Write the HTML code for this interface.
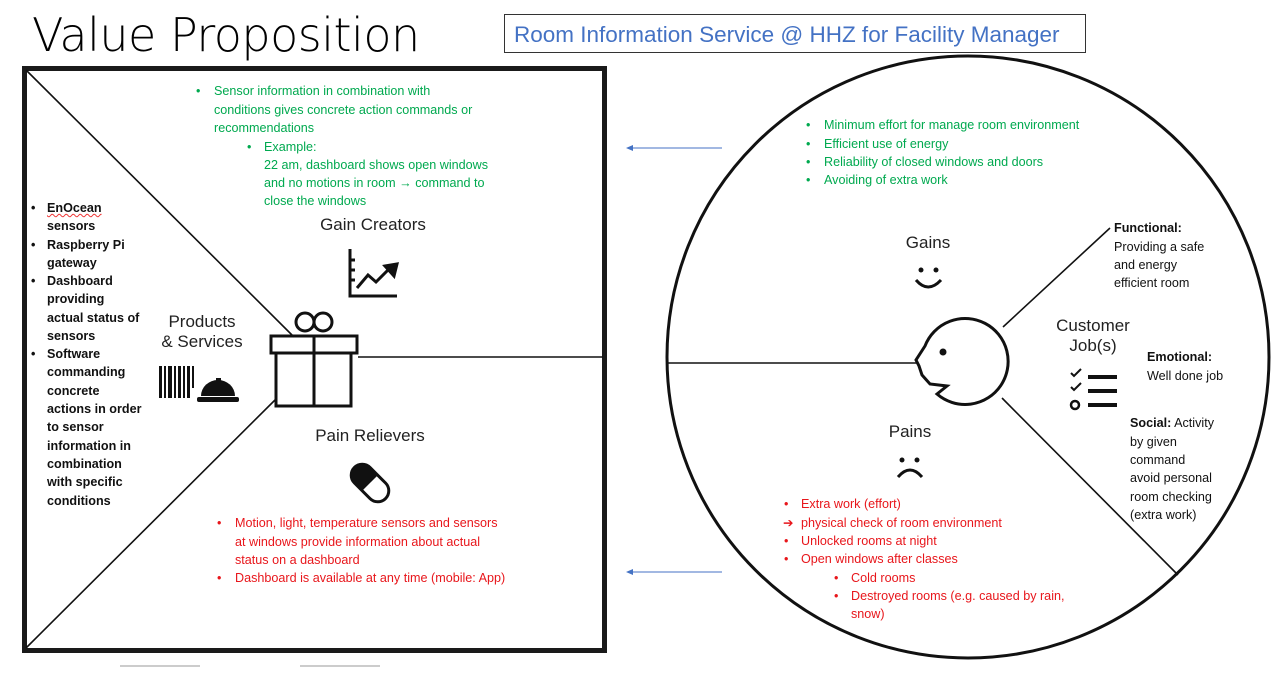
<!DOCTYPE html>
<html><head><meta charset="utf-8"><style>
body{margin:0;width:1282px;height:674px;background:#fff;position:relative;overflow:hidden;font-family:"Liberation Sans",sans-serif}
.t{position:absolute;font-size:12.6px;line-height:18px;white-space:nowrap}
.g{color:#00a94f}.r{color:#e8161b}.k{color:#111;font-weight:bold}.n{color:#111}
.h{position:absolute;font-size:17px;color:#222;text-align:center;line-height:20px}
</style></head><body>
<div style="position:absolute;left:32px;top:8px;font-size:46px;color:#000;font-family:'DejaVu Sans',sans-serif;font-weight:200;letter-spacing:-0.5px">Value Proposition</div>
<div style="position:absolute;left:504px;top:14px;height:39px;border:1px solid #333;color:#4472c4;font-size:22.5px;line-height:39px;padding-left:9px;box-sizing:border-box;width:582px">Room Information Service @ HHZ for Facility Manager</div>

<svg width="1282" height="674" style="position:absolute;left:0;top:0">
<rect x="24.5" y="68.5" width="580" height="582" fill="none" stroke="#1a1a1a" stroke-width="5"/>
<line x1="26" y1="70" x2="294" y2="337" stroke="#111" stroke-width="1.6"/>
<line x1="26" y1="648" x2="275" y2="400" stroke="#111" stroke-width="1.6"/>
<line x1="358" y1="357" x2="603" y2="357" stroke="#111" stroke-width="1.6"/>
<g fill="none" stroke="#111" stroke-width="3">
<rect x="271" y="336" width="86" height="17"/><rect x="276" y="353" width="75" height="53"/>
<line x1="314" y1="336" x2="314" y2="406"/>
<circle cx="305" cy="322" r="9"/><circle cx="323" cy="322" r="9"/></g>
<g stroke="#111" stroke-width="3" fill="none">
<polyline points="350,249 350,296 397,296"/><polyline points="357,288 368,275 376,282 390,268"/>
<line x1="350" y1="260" x2="355" y2="260"/><line x1="350" y1="270" x2="355" y2="270"/><line x1="350" y1="280" x2="355" y2="280"/>
<polygon points="385,266 397,264 394,276" fill="#111"/></g>
<g fill="#111">
<rect x="159" y="366" width="3" height="32"/><rect x="164" y="366" width="2" height="32"/><rect x="168" y="366" width="4" height="32"/><rect x="174" y="366" width="2" height="32"/><rect x="178" y="366" width="3" height="32"/><rect x="183" y="366" width="2" height="32"/><rect x="187" y="366" width="3" height="32"/><rect x="192" y="366" width="2" height="22"/>
<path d="M201,396 A17,16 0 0 1 235,396 Z"/><rect x="197" y="397" width="42" height="5" rx="2"/><rect x="216" y="378" width="5" height="4"/></g>
<g transform="rotate(45 370 483)"><rect x="348" y="472" width="44" height="22" rx="11" fill="#fff" stroke="#111" stroke-width="3"/><path d="M359,472 h11 v22 h-11 a11,11 0 0 1 0,-22z" fill="#111"/></g>
<g stroke="#4472c4" stroke-width="1"><line x1="722" y1="148" x2="630" y2="148"/><line x1="722" y1="572" x2="630" y2="572"/></g>
<polygon points="626,148 633,145 633,151" fill="#4472c4"/><polygon points="626,572 633,569 633,575" fill="#4472c4"/>
<circle cx="968" cy="357" r="301" fill="none" stroke="#111" stroke-width="3"/>
<line x1="668" y1="363" x2="917" y2="363" stroke="#111" stroke-width="1.6"/>
<line x1="1003" y1="327" x2="1110" y2="228" stroke="#111" stroke-width="1.6"/>
<line x1="1002" y1="398" x2="1178" y2="575" stroke="#111" stroke-width="1.6"/>
<path d="M925,346 A43,43 0 1 1 937,394 L947,386 L930,384 L922,375 L919,366 L916,360 Z" fill="#fff" stroke="#111" stroke-width="3"/>
<circle cx="943" cy="352" r="3.5" fill="#111"/>
<g><circle cx="921" cy="270" r="2.5" fill="#111"/><circle cx="936" cy="270" r="2.5" fill="#111"/><path d="M916,280 q12,14 25,0" stroke="#111" stroke-width="3" fill="none"/></g>
<g><circle cx="902" cy="460" r="2.5" fill="#111"/><circle cx="917" cy="460" r="2.5" fill="#111"/><path d="M898,477 q12,-14 24,0" stroke="#111" stroke-width="3" fill="none"/></g>
<g stroke="#111" fill="none"><polyline points="1071,373 1074,376 1081,369" stroke-width="2"/><polyline points="1071,387 1074,390 1081,383" stroke-width="2"/><circle cx="1075" cy="405" r="4" stroke-width="2.5"/>
<line x1="1088" y1="377" x2="1117" y2="377" stroke-width="4"/><line x1="1088" y1="391" x2="1117" y2="391" stroke-width="4"/><line x1="1088" y1="405" x2="1117" y2="405" stroke-width="4"/></g>
<g stroke="#ccc" stroke-width="2"><line x1="120" y1="666" x2="200" y2="666"/><line x1="300" y1="666" x2="380" y2="666"/></g>
</svg>

<div class="h" style="left:300px;top:215px;width:146px">Gain Creators</div>
<div class="h" style="left:150px;top:312px;width:104px">Products<br>&amp; Services</div>
<div class="h" style="left:300px;top:426px;width:140px">Pain Relievers</div>
<div class="h" style="left:898px;top:233px;width:60px">Gains</div>
<div class="h" style="left:880px;top:422px;width:60px">Pains</div>
<div class="h" style="left:1043px;top:316px;width:100px">Customer<br>Job(s)</div>

<div>
<div class="t k" style="left:31px;top:199px">•</div><div class="t k" style="left:47px;top:199px;text-decoration:underline wavy #e33 1px">EnOcean</div>
<div class="t k" style="left:47px;top:217px">sensors</div>
<div class="t k" style="left:31px;top:236px">•</div><div class="t k" style="left:47px;top:236px">Raspberry Pi</div>
<div class="t k" style="left:47px;top:254px">gateway</div>
<div class="t k" style="left:31px;top:272px">•</div><div class="t k" style="left:47px;top:272px">Dashboard</div>
<div class="t k" style="left:47px;top:290px">providing</div>
<div class="t k" style="left:47px;top:309px">actual status of</div>
<div class="t k" style="left:47px;top:327px">sensors</div>
<div class="t k" style="left:31px;top:345px">•</div><div class="t k" style="left:47px;top:345px">Software</div>
<div class="t k" style="left:47px;top:363px">commanding</div>
<div class="t k" style="left:47px;top:382px">concrete</div>
<div class="t k" style="left:47px;top:400px">actions in order</div>
<div class="t k" style="left:47px;top:418px">to sensor</div>
<div class="t k" style="left:47px;top:437px">information in</div>
<div class="t k" style="left:47px;top:455px">combination</div>
<div class="t k" style="left:47px;top:473px">with specific</div>
<div class="t k" style="left:47px;top:492px">conditions</div>
</div>

<div>
<div class="t g" style="left:196px;top:82px">•</div><div class="t g" style="left:214px;top:82px">Sensor information in combination with</div>
<div class="t g" style="left:214px;top:101px">conditions gives concrete action commands or</div>
<div class="t g" style="left:214px;top:119px">recommendations</div>
<div class="t g" style="left:247px;top:138px">•</div><div class="t g" style="left:264px;top:138px">Example:</div>
<div class="t g" style="left:264px;top:156px">22 am, dashboard shows open windows</div>
<div class="t g" style="left:264px;top:174px">and no motions in room → command to</div>
<div class="t g" style="left:264px;top:192px">close the windows</div>
</div>

<div>
<div class="t r" style="left:217px;top:514px">•</div><div class="t r" style="left:235px;top:514px">Motion, light, temperature sensors and sensors</div>
<div class="t r" style="left:235px;top:533px">at windows provide information about actual</div>
<div class="t r" style="left:235px;top:551px">status on a dashboard</div>
<div class="t r" style="left:217px;top:569px">•</div><div class="t r" style="left:235px;top:569px">Dashboard is available at any time (mobile: App)</div>
</div>

<div>
<div class="t g" style="left:806px;top:116px">•</div><div class="t g" style="left:824px;top:116px">Minimum effort for manage room environment</div>
<div class="t g" style="left:806px;top:135px">•</div><div class="t g" style="left:824px;top:135px">Efficient use of energy</div>
<div class="t g" style="left:806px;top:153px">•</div><div class="t g" style="left:824px;top:153px">Reliability of closed windows and doors</div>
<div class="t g" style="left:806px;top:171px">•</div><div class="t g" style="left:824px;top:171px">Avoiding of extra work</div>
</div>

<div>
<div class="t r" style="left:784px;top:495px">•</div><div class="t r" style="left:801px;top:495px">Extra work (effort)</div>
<div class="t r" style="left:783px;top:514px">➔</div><div class="t r" style="left:801px;top:514px">physical check of room environment</div>
<div class="t r" style="left:784px;top:532px">•</div><div class="t r" style="left:801px;top:532px">Unlocked rooms at night</div>
<div class="t r" style="left:784px;top:550px">•</div><div class="t r" style="left:801px;top:550px">Open windows after classes</div>
<div class="t r" style="left:834px;top:569px">•</div><div class="t r" style="left:851px;top:569px">Cold rooms</div>
<div class="t r" style="left:834px;top:587px">•</div><div class="t r" style="left:851px;top:587px">Destroyed rooms (e.g. caused by rain,</div>
<div class="t r" style="left:851px;top:605px">snow)</div>
</div>

<div>
<div class="t k" style="left:1114px;top:219px">Functional:</div>
<div class="t n" style="left:1114px;top:238px">Providing a safe</div>
<div class="t n" style="left:1114px;top:256px">and energy</div>
<div class="t n" style="left:1114px;top:274px">efficient room</div>
<div class="t k" style="left:1147px;top:348px">Emotional:</div>
<div class="t n" style="left:1147px;top:367px">Well done job</div>
<div class="t n" style="left:1130px;top:414px"><b>Social:</b> Activity</div>
<div class="t n" style="left:1130px;top:433px">by given</div>
<div class="t n" style="left:1130px;top:451px">command</div>
<div class="t n" style="left:1130px;top:469px">avoid personal</div>
<div class="t n" style="left:1130px;top:488px">room checking</div>
<div class="t n" style="left:1130px;top:506px">(extra work)</div>
</div>
</body></html>
